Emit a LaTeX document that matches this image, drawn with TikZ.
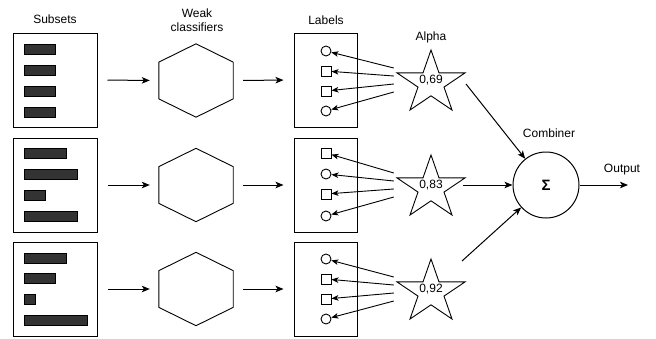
\documentclass[tikz,border=0pt]{standalone}
\usepackage{fontspec}
\setmainfont{Liberation Sans}
\usetikzlibrary{arrows.meta,calc}
\definecolor{barfill}{HTML}{333333}

% stretched hexagon drawn inside a (non-drawn) rectangular node
\newcommand\drawhexagon[1]{%
  \draw[shapeline] (#1.north)
    -- ($(#1.north east)!0.25!(#1.south east)$)
    -- ($(#1.north east)!0.75!(#1.south east)$)
    -- (#1.south)
    -- ($(#1.south west)!0.25!(#1.north west)$)
    -- ($(#1.south west)!0.75!(#1.north west)$) -- cycle;}
% five-pointed star stretched to a 68 x 60 box around a node
\newcommand\drawstarshape[1]{%
  \draw[shapeline, shift={(#1.center)}] (0,-30) -- (8.02,-7.08) -- (34,-7.08)
    -- (12.99,7.08) -- (21.01,30) -- (0,15.83) -- (-21.01,30)
    -- (-12.99,7.08) -- (-34,-7.08) -- (-8.02,-7.08) -- cycle;}

\tikzset{
  shapeline/.style={draw=black, line width=0.9pt, line join=miter},
  subsetbox/.style={draw=black, line width=1pt, minimum width=84pt, minimum height=94pt, inner sep=0pt},
  labelbox/.style={draw=black, line width=1pt, minimum width=63pt, minimum height=94pt, inner sep=0pt},
  bar/.style={draw=black, fill=barfill, line width=0.6pt},
  hexbox/.style={minimum width=74pt, minimum height=73pt, inner sep=0pt},
  starbox/.style={minimum width=68pt, minimum height=60pt, inner sep=0pt, font=\fontsize{12}{14}\selectfont},
  circ/.style={circle, draw=black, line width=0.9pt, minimum size=10pt, inner sep=0pt},
  sq/.style={rectangle, draw=black, line width=0.9pt, minimum size=10pt, inner sep=0pt},
  arr/.style={draw=black, line width=1pt, -{Stealth[length=8pt,width=6.5pt,inset=2pt]}},
  sarr/.style={draw=black, line width=0.9pt, -{Stealth[length=7pt,width=5.5pt,inset=1.8pt]}},
  txt/.style={inner sep=0pt, align=center, font=\fontsize{12}{14}\selectfont},
}

\begin{document}
\begin{tikzpicture}[x=1pt, y=-1pt]
\useasboundingbox (0,0) rectangle (656,338);

% column titles
\node[txt] (tsub) at (55,19) {Subsets};
\node[txt] (tweak) at (197,20) {Weak\\classifiers};
\node[txt] (tlab) at (326,20) {Labels};
\node[txt] (talpha) at (431,37) {Alpha};
\node[txt] (tcomb) at (549,133) {Combiner};
\node[txt] (tout) at (622,170) {Output};

% subset boxes
\node[subsetbox] (d1) at (55,80) {};
\node[subsetbox] (d2) at (55,185) {};
\node[subsetbox] (d3) at (55,289) {};

% bars of the subsets
\foreach \r/\y in {55/49, 55/70, 55/91, 55/112,
                   66/153, 77/174, 45/195, 77/216,
                   66/258, 55/278, 35/299, 87/320}
  \draw[bar] (24,\y-5) rectangle (\r,\y+5);

% weak classifiers
\node[hexbox] (h1) at (196,80.5) {};
\node[hexbox] (h2) at (196,185) {};
\node[hexbox] (h3) at (196,289) {};
\drawhexagon{h1}
\drawhexagon{h2}
\drawhexagon{h3}

% label boxes
\node[labelbox] (b1) at (325.5,80) {};
\node[labelbox] (b2) at (325.5,185) {};
\node[labelbox] (b3) at (325.5,289) {};

% label symbols
\node[circ] (l11) at (326,51) {};
\node[sq]   (l12) at (326,71) {};
\node[sq]   (l13) at (326,91) {};
\node[circ] (l14) at (326,111) {};
\node[sq]   (l21) at (326,153) {};
\node[circ] (l22) at (326,174) {};
\node[sq]   (l23) at (326,194) {};
\node[circ] (l24) at (326,216) {};
\node[circ] (l31) at (326,259) {};
\node[sq]   (l32) at (326,279) {};
\node[sq]   (l33) at (326,299) {};
\node[circ] (l34) at (326,319) {};

% alpha weights
\node[starbox] (s1) at (431,80) {0,69};
\node[starbox] (s2) at (431,185) {0,83};
\node[starbox] (s3) at (431,289) {0,92};
\drawstarshape{s1}
\drawstarshape{s2}
\drawstarshape{s3}

% combiner
\node[circle, draw=black, line width=1pt, minimum size=66pt, inner sep=0pt,
      font=\fontsize{15}{16}\selectfont\bfseries] (c) at (546,185) {Σ};
\coordinate (out) at (628,185);

% subsets -> classifiers -> labels
\foreach \i in {1,2,3} {
  \draw[arr, shorten <=10pt, shorten >=9pt] (d\i.east) -- (h\i.west);
  \draw[arr, shorten <=10pt, shorten >=10pt] (h\i.east) -- (b\i.west);
}

% alpha -> labels
\foreach \i in {1,2,3} {
  \draw[sarr] ($(s\i.west)+(-3,-12)$) -- (l\i1);
  \draw[sarr] ($(s\i.west)+(-3,-4)$) -- (l\i2);
  \draw[sarr] ($(s\i.west)+(-3,4)$) -- (l\i3);
  \draw[sarr] ($(s\i.west)+(-3,12)$) -- (l\i4);
}

% alpha -> combiner -> output
\draw[arr] ($(s1.center)+(35,4)$) -- (c);
\draw[arr] ($(s2.east)+(-2,0)$) -- (c);
\draw[arr] ($(s3.center)+(31,-28)$) -- (c);
\draw[arr] (c) -- (out);
\end{tikzpicture}
\end{document}
